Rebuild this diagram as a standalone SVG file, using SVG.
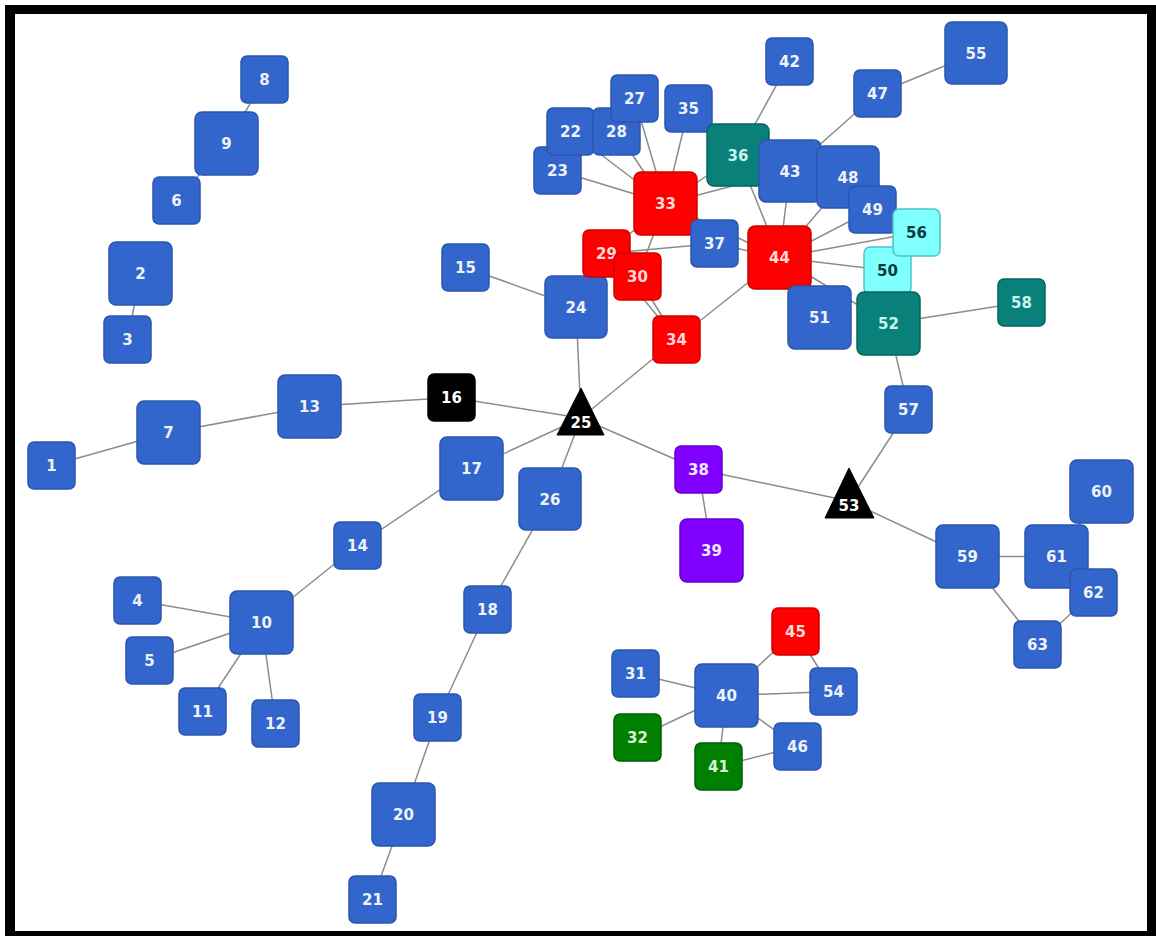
<svg xmlns="http://www.w3.org/2000/svg" width="1156" height="936" viewBox="0 0 1156 936">
<style>
.e line{stroke:#8c8c8c;stroke-width:1.5}
.n rect{stroke-width:1.5}
.b rect{fill:#3366cc;stroke:#2a55ad}
.r rect{fill:#ff0000;stroke:#d00000}
.t rect{fill:#0a807a;stroke:#066460}
.c rect{fill:#80ffff;stroke:#4cc4c4}
.p rect{fill:#8000ff;stroke:#6400cc}
.g rect{fill:#008000;stroke:#005e00}
.k rect,.k polygon{fill:#000;stroke:#000}
text{font-family:"DejaVu Sans","Liberation Sans",sans-serif;font-size:15px;font-weight:bold;text-anchor:middle}
.b text{fill:#eef2fb}
.r text{fill:#ffd8d8}
.t text{fill:#c8f4ef}
.c text{fill:#083a3e}
.p text{fill:#f2e8ff}
.g text{fill:#d8f2d8}
.k text{fill:#fff}
</style>
<rect x="0" y="0" width="1156" height="936" fill="#fff"/>
<rect x="5" y="5" width="1151" height="931" fill="#000"/>
<rect x="15" y="14" width="1132" height="917" fill="#fff"/>
<g id="connectors" class="e">
<line x1="264.5" y1="79.5" x2="226.5" y2="143.5"/>
<line x1="226.5" y1="143.5" x2="176.5" y2="200.5"/>
<line x1="140.5" y1="273.5" x2="127.5" y2="339.5"/>
<line x1="51.5" y1="465.5" x2="168.5" y2="432.5"/>
<line x1="168.5" y1="432.5" x2="309.5" y2="406.5"/>
<line x1="309.5" y1="406.5" x2="451.5" y2="397.5"/>
<line x1="451.5" y1="397.5" x2="581" y2="418"/>
<line x1="465.5" y1="267.5" x2="576" y2="307"/>
<line x1="576" y1="307" x2="581" y2="418"/>
<line x1="581" y1="418" x2="676.5" y2="339.5"/>
<line x1="581" y1="418" x2="471.5" y2="468.5"/>
<line x1="581" y1="418" x2="550" y2="499"/>
<line x1="581" y1="418" x2="698.5" y2="469.5"/>
<line x1="471.5" y1="468.5" x2="357.5" y2="545.5"/>
<line x1="357.5" y1="545.5" x2="261.5" y2="622.5"/>
<line x1="261.5" y1="622.5" x2="137.5" y2="600.5"/>
<line x1="261.5" y1="622.5" x2="149.5" y2="660.5"/>
<line x1="261.5" y1="622.5" x2="202.5" y2="711.5"/>
<line x1="261.5" y1="622.5" x2="275.5" y2="723.5"/>
<line x1="550" y1="499" x2="487.5" y2="609.5"/>
<line x1="487.5" y1="609.5" x2="437.5" y2="717.5"/>
<line x1="437.5" y1="717.5" x2="403.5" y2="814.5"/>
<line x1="403.5" y1="814.5" x2="372.5" y2="899.5"/>
<line x1="698.5" y1="469.5" x2="711.5" y2="550.5"/>
<line x1="698.5" y1="469.5" x2="849" y2="501"/>
<line x1="849" y1="501" x2="908.5" y2="409.5"/>
<line x1="908.5" y1="409.5" x2="888.5" y2="323.5"/>
<line x1="849" y1="501" x2="967.5" y2="556.5"/>
<line x1="967.5" y1="556.5" x2="1056.5" y2="556.5"/>
<line x1="967.5" y1="556.5" x2="1037.5" y2="644.5"/>
<line x1="1037.5" y1="644.5" x2="1093.5" y2="592.5"/>
<line x1="1056.5" y1="556.5" x2="1093.5" y2="592.5"/>
<line x1="1101.5" y1="491.5" x2="1056.5" y2="556.5"/>
<line x1="888.5" y1="323.5" x2="1021.5" y2="302.5"/>
<line x1="779.5" y1="257.5" x2="888.5" y2="323.5"/>
<line x1="779.5" y1="257.5" x2="819.5" y2="317.5"/>
<line x1="779.5" y1="257.5" x2="887.5" y2="270.5"/>
<line x1="779.5" y1="257.5" x2="916.5" y2="232.5"/>
<line x1="779.5" y1="257.5" x2="872.5" y2="209.5"/>
<line x1="779.5" y1="257.5" x2="848" y2="177"/>
<line x1="779.5" y1="257.5" x2="790" y2="171"/>
<line x1="779.5" y1="257.5" x2="738" y2="155"/>
<line x1="779.5" y1="257.5" x2="714.5" y2="243.5"/>
<line x1="665.5" y1="203.5" x2="779.5" y2="257.5"/>
<line x1="676.5" y1="339.5" x2="779.5" y2="257.5"/>
<line x1="606.5" y1="253.5" x2="676.5" y2="339.5"/>
<line x1="637.5" y1="276.5" x2="676.5" y2="339.5"/>
<line x1="606.5" y1="253.5" x2="714.5" y2="243.5"/>
<line x1="665.5" y1="203.5" x2="606.5" y2="253.5"/>
<line x1="665.5" y1="203.5" x2="637.5" y2="276.5"/>
<line x1="665.5" y1="203.5" x2="557.5" y2="170.5"/>
<line x1="665.5" y1="203.5" x2="570.5" y2="131.5"/>
<line x1="665.5" y1="203.5" x2="616.5" y2="131.5"/>
<line x1="665.5" y1="203.5" x2="634.5" y2="98.5"/>
<line x1="665.5" y1="203.5" x2="688.5" y2="108.5"/>
<line x1="665.5" y1="203.5" x2="738" y2="155"/>
<line x1="665.5" y1="203.5" x2="790" y2="171"/>
<line x1="738" y1="155" x2="789.5" y2="61.5"/>
<line x1="790" y1="171" x2="877.5" y2="93.5"/>
<line x1="877.5" y1="93.5" x2="976" y2="53"/>
<line x1="635.5" y1="673.5" x2="726.5" y2="695.5"/>
<line x1="637.5" y1="737.5" x2="726.5" y2="695.5"/>
<line x1="726.5" y1="695.5" x2="718.5" y2="766.5"/>
<line x1="726.5" y1="695.5" x2="795.5" y2="631.5"/>
<line x1="726.5" y1="695.5" x2="833.5" y2="691.5"/>
<line x1="726.5" y1="695.5" x2="797.5" y2="746.5"/>
<line x1="718.5" y1="766.5" x2="797.5" y2="746.5"/>
<line x1="795.5" y1="631.5" x2="833.5" y2="691.5"/>
</g>
<g id="n1" class="n b"><rect x="28" y="442" width="47" height="47" rx="6"/><text x="51.5" y="471">1</text></g>
<g id="n2" class="n b"><rect x="109" y="242" width="63" height="63" rx="7"/><text x="140.5" y="279">2</text></g>
<g id="n3" class="n b"><rect x="104" y="316" width="47" height="47" rx="6"/><text x="127.5" y="345">3</text></g>
<g id="n4" class="n b"><rect x="114" y="577" width="47" height="47" rx="6"/><text x="137.5" y="606">4</text></g>
<g id="n5" class="n b"><rect x="126" y="637" width="47" height="47" rx="6"/><text x="149.5" y="666">5</text></g>
<g id="n6" class="n b"><rect x="153" y="177" width="47" height="47" rx="6"/><text x="176.5" y="206">6</text></g>
<g id="n7" class="n b"><rect x="137" y="401" width="63" height="63" rx="7"/><text x="168.5" y="438">7</text></g>
<g id="n8" class="n b"><rect x="241" y="56" width="47" height="47" rx="6"/><text x="264.5" y="85">8</text></g>
<g id="n9" class="n b"><rect x="195" y="112" width="63" height="63" rx="7"/><text x="226.5" y="149">9</text></g>
<g id="n10" class="n b"><rect x="230" y="591" width="63" height="63" rx="7"/><text x="261.5" y="628">10</text></g>
<g id="n11" class="n b"><rect x="179" y="688" width="47" height="47" rx="6"/><text x="202.5" y="717">11</text></g>
<g id="n12" class="n b"><rect x="252" y="700" width="47" height="47" rx="6"/><text x="275.5" y="729">12</text></g>
<g id="n13" class="n b"><rect x="278" y="375" width="63" height="63" rx="7"/><text x="309.5" y="412">13</text></g>
<g id="n14" class="n b"><rect x="334" y="522" width="47" height="47" rx="6"/><text x="357.5" y="551">14</text></g>
<g id="n15" class="n b"><rect x="442" y="244" width="47" height="47" rx="6"/><text x="465.5" y="273">15</text></g>
<g id="n16" class="n k"><rect x="428" y="374" width="47" height="47" rx="6"/><text x="451.5" y="403">16</text></g>
<g id="n17" class="n b"><rect x="440" y="437" width="63" height="63" rx="7"/><text x="471.5" y="474">17</text></g>
<g id="n18" class="n b"><rect x="464" y="586" width="47" height="47" rx="6"/><text x="487.5" y="615">18</text></g>
<g id="n19" class="n b"><rect x="414" y="694" width="47" height="47" rx="6"/><text x="437.5" y="723">19</text></g>
<g id="n20" class="n b"><rect x="372" y="783" width="63" height="63" rx="7"/><text x="403.5" y="820">20</text></g>
<g id="n21" class="n b"><rect x="349" y="876" width="47" height="47" rx="6"/><text x="372.5" y="905">21</text></g>
<g id="n23" class="n b"><rect x="534" y="147" width="47" height="47" rx="6"/><text x="557.5" y="176">23</text></g>
<g id="n22" class="n b"><rect x="547" y="108" width="47" height="47" rx="6"/><text x="570.5" y="137">22</text></g>
<g id="n28" class="n b"><rect x="593" y="108" width="47" height="47" rx="6"/><text x="616.5" y="137">28</text></g>
<g id="n27" class="n b"><rect x="611" y="75" width="47" height="47" rx="6"/><text x="634.5" y="104">27</text></g>
<g id="n24" class="n b"><rect x="545" y="276" width="62" height="62" rx="7"/><text x="576" y="312.5">24</text></g>
<g id="n25" class="n k"><polygon points="581,388 604,435 557,435"/><text x="581" y="428">25</text></g>
<g id="n26" class="n b"><rect x="519" y="468" width="62" height="62" rx="7"/><text x="550" y="504.5">26</text></g>
<g id="n29" class="n r"><rect x="583" y="230" width="47" height="47" rx="6"/><text x="606.5" y="259">29</text></g>
<g id="n30" class="n r"><rect x="614" y="253" width="47" height="47" rx="6"/><text x="637.5" y="282">30</text></g>
<g id="n31" class="n b"><rect x="612" y="650" width="47" height="47" rx="6"/><text x="635.5" y="679">31</text></g>
<g id="n32" class="n g"><rect x="614" y="714" width="47" height="47" rx="6"/><text x="637.5" y="743">32</text></g>
<g id="n33" class="n r"><rect x="634" y="172" width="63" height="63" rx="7"/><text x="665.5" y="209">33</text></g>
<g id="n34" class="n r"><rect x="653" y="316" width="47" height="47" rx="6"/><text x="676.5" y="345">34</text></g>
<g id="n35" class="n b"><rect x="665" y="85" width="47" height="47" rx="6"/><text x="688.5" y="114">35</text></g>
<g id="n36" class="n t"><rect x="707" y="124" width="62" height="62" rx="7"/><text x="738" y="160.5">36</text></g>
<g id="n37" class="n b"><rect x="691" y="220" width="47" height="47" rx="6"/><text x="714.5" y="249">37</text></g>
<g id="n38" class="n p"><rect x="675" y="446" width="47" height="47" rx="6"/><text x="698.5" y="475">38</text></g>
<g id="n39" class="n p"><rect x="680" y="519" width="63" height="63" rx="7"/><text x="711.5" y="556">39</text></g>
<g id="n40" class="n b"><rect x="695" y="664" width="63" height="63" rx="7"/><text x="726.5" y="701">40</text></g>
<g id="n41" class="n g"><rect x="695" y="743" width="47" height="47" rx="6"/><text x="718.5" y="772">41</text></g>
<g id="n42" class="n b"><rect x="766" y="38" width="47" height="47" rx="6"/><text x="789.5" y="67">42</text></g>
<g id="n43" class="n b"><rect x="759" y="140" width="62" height="62" rx="7"/><text x="790" y="176.5">43</text></g>
<g id="n44" class="n r"><rect x="748" y="226" width="63" height="63" rx="7"/><text x="779.5" y="263">44</text></g>
<g id="n45" class="n r"><rect x="772" y="608" width="47" height="47" rx="6"/><text x="795.5" y="637">45</text></g>
<g id="n46" class="n b"><rect x="774" y="723" width="47" height="47" rx="6"/><text x="797.5" y="752">46</text></g>
<g id="n47" class="n b"><rect x="854" y="70" width="47" height="47" rx="6"/><text x="877.5" y="99">47</text></g>
<g id="n48" class="n b"><rect x="817" y="146" width="62" height="62" rx="7"/><text x="848" y="182.5">48</text></g>
<g id="n49" class="n b"><rect x="849" y="186" width="47" height="47" rx="6"/><text x="872.5" y="215">49</text></g>
<g id="n50" class="n c"><rect x="864" y="247" width="47" height="47" rx="6"/><text x="887.5" y="276">50</text></g>
<g id="n51" class="n b"><rect x="788" y="286" width="63" height="63" rx="7"/><text x="819.5" y="323">51</text></g>
<g id="n52" class="n t"><rect x="857" y="292" width="63" height="63" rx="7"/><text x="888.5" y="329">52</text></g>
<g id="n53" class="n k"><polygon points="849,468 874,518 825,518"/><text x="849" y="511">53</text></g>
<g id="n54" class="n b"><rect x="810" y="668" width="47" height="47" rx="6"/><text x="833.5" y="697">54</text></g>
<g id="n55" class="n b"><rect x="945" y="22" width="62" height="62" rx="7"/><text x="976" y="58.5">55</text></g>
<g id="n56" class="n c"><rect x="893" y="209" width="47" height="47" rx="6"/><text x="916.5" y="238">56</text></g>
<g id="n57" class="n b"><rect x="885" y="386" width="47" height="47" rx="6"/><text x="908.5" y="415">57</text></g>
<g id="n58" class="n t"><rect x="998" y="279" width="47" height="47" rx="6"/><text x="1021.5" y="308">58</text></g>
<g id="n59" class="n b"><rect x="936" y="525" width="63" height="63" rx="7"/><text x="967.5" y="562">59</text></g>
<g id="n60" class="n b"><rect x="1070" y="460" width="63" height="63" rx="7"/><text x="1101.5" y="497">60</text></g>
<g id="n61" class="n b"><rect x="1025" y="525" width="63" height="63" rx="7"/><text x="1056.5" y="562">61</text></g>
<g id="n62" class="n b"><rect x="1070" y="569" width="47" height="47" rx="6"/><text x="1093.5" y="598">62</text></g>
<g id="n63" class="n b"><rect x="1014" y="621" width="47" height="47" rx="6"/><text x="1037.5" y="650">63</text></g>
</svg>
